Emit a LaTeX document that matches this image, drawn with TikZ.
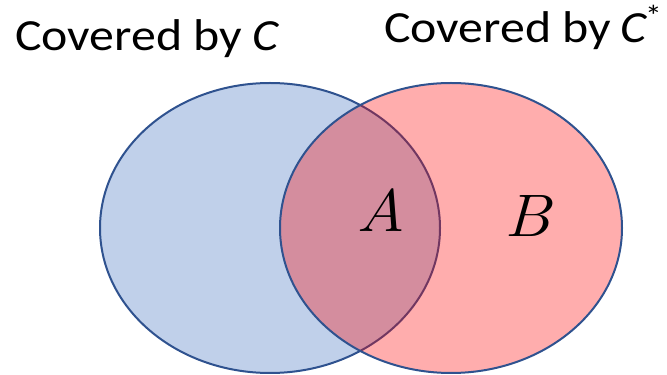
\documentclass[tikz,border=0pt]{standalone}
\usepackage{fontspec}
\setmainfont{Carlito}
\newfontfamily\varfont{Latin Modern Roman}
\newcommand{\mathC}{{\itshape C}}
\newcommand{\wide}[1]{\scalebox{1.12}[1]{#1}}
\begin{document}
\begin{tikzpicture}[x=1pt,y=1pt,
  set/.style={draw=setline, line width=2pt},
  lbl/.style={anchor=base west, inner sep=0pt, font=\fontsize{44.5}{54}\selectfont},
  var/.style={inner sep=0pt, font=\fontsize{60}{70}\selectfont\varfont\itshape}]
\definecolor{setline}{HTML}{2F528F}
\definecolor{blueset}{HTML}{C0D0EA}
\useasboundingbox (0,0) rectangle (667,375);
\fill[white] (0,0) rectangle (667,375);
\draw[set, fill=blueset] (270,147) ellipse [x radius=170, y radius=145];
\fill[red, fill opacity=0.32] (451,147) ellipse [x radius=171, y radius=145];
\draw[set] (451,147) ellipse [x radius=171, y radius=145];
\node[lbl] (lc) at (15,324) {\wide{Covered by\hspace{0.2em}\mathC}};
\node[lbl] (rc) at (384,332) {\wide{Covered by\hspace{0.18em}\mathC\hspace{-0.02em}\raisebox{0.36em}{\fontsize{30}{34}\selectfont *}}};
\node[var] (a) at (381,165) {\wide{A}};
\node[var] (b) at (528,159) {\wide{B}};
\end{tikzpicture}
\end{document}
